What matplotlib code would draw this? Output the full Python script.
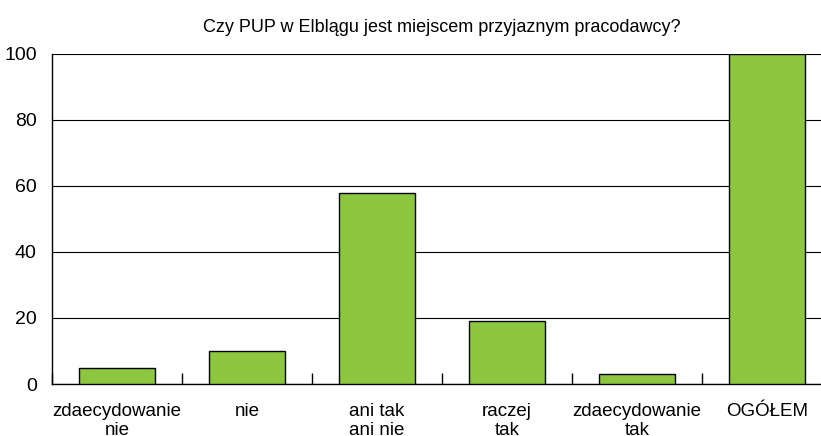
import matplotlib.pyplot as plt
import numpy as np

plt.rcParams['font.family'] = ['Liberation Sans', 'DejaVu Sans']

# data
categories = ["zdaecydowanie\nnie", "nie", "ani tak\nani nie", "raczej\ntak",
              "zdaecydowanie\ntak", "OGÓŁEM"]
values = [5, 10, 58, 19, 3, 100]
yticks = [0, 20, 40, 60, 80, 100]

fig = plt.figure(figsize=(8.21, 4.36), dpi=100)
ax = fig.add_axes([52 / 821, 52 / 436, 780 / 821, 330 / 436])

x = np.arange(len(categories))
ax.bar(x, values, width=0.58, color='#8dc63f', edgecolor='black', linewidth=1, zorder=3)

ax.set_xlim(-0.5, len(categories) - 0.5)
ax.set_ylim(0, 100)
ax.set_yticks(yticks)
ax.set_yticklabels([str(v) for v in yticks], fontsize=14)
ax.yaxis.grid(True, color='black', linewidth=0.8, zorder=0)

ax.set_xticks(x)
ax.set_xticklabels(categories, fontsize=13.5, linespacing=1.15)
ax.set_xticks(np.arange(-0.5, len(categories), 1), minor=True)
ax.tick_params(axis='x', which='major', length=0, pad=14)
ax.tick_params(axis='x', which='minor', direction='in', length=8, width=1)
ax.tick_params(axis='y', length=0, pad=11)

for s in ['top', 'right']:
    ax.spines[s].set_visible(False)
ax.spines['left'].set_linewidth(1)
ax.spines['bottom'].set_linewidth(1)

ax.set_title("Czy PUP w Elblągu jest miejscem przyjaznym pracodawcy?", fontsize=13, pad=16)

fig.savefig("out.png", dpi=100)
